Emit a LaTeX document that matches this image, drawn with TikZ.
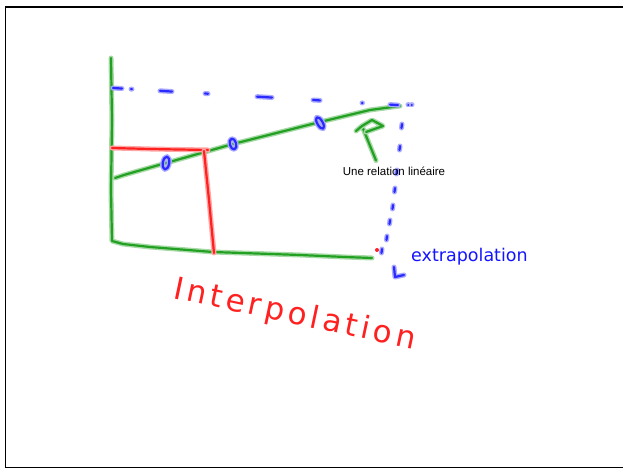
\documentclass[tikz,border=0pt]{standalone}
\usepackage{fontspec}
\setmainfont{Liberation Sans}
\newfontfamily\handfont{DejaVu Sans}
\usetikzlibrary{positioning}

\begin{document}
\begin{tikzpicture}[x=1bp, y=-1bp,
    pen/.style={line width=2.2bp, line cap=round, line join=round, draw=#1,
        preaction={draw=#1!40, line width=5bp, line cap=round, line join=round}},
    greenpen/.style={pen=penGreen},
    redpen/.style={pen=penRed},
    bluepen/.style={pen=penBlue},
    frameline/.style={draw=black, line width=1.8bp}]
    % Palette
    \definecolor{penGreen}{HTML}{22A022}
    \definecolor{penRed}{HTML}{FF2020}
    \definecolor{penBlue}{HTML}{2A2AFF}
    \definecolor{inkBlue}{HTML}{1414FF}

    \useasboundingbox (0,0) rectangle (623,470);

    % --- Page frame ---
    \draw[frameline] (623,7) -- (5.5,7) -- (5.5,467.5) -- (623,467.5);

    % --- Axes ---
    \draw[greenpen] (111,58) -- (112,120) -- (111,190) -- (112,241) -- (123,244) -- (150,247)
        -- (213,252) -- (300,255) -- (345,257) -- (372,258);

    % --- Linear relation ---
    \draw[greenpen] (115,178) -- (124,175) -- (166,163) -- (233,144) -- (320,122) -- (370,110) -- (400,106);

    % --- Interpolation lines ---
    \draw[redpen] (112,148) -- (150,149) -- (208,150);
    \draw[redpen] (204,151) -- (209,200) -- (214,253);
    \fill[penRed] (377,250) circle (2);

    % --- Data points ---
    \draw[bluepen, rotate around={-10:(166,163)}] (166,163) ellipse (3.2 and 6.5);
    \draw[bluepen, rotate around={15:(233,144)}] (233,144) ellipse (3.2 and 5.5);
    \draw[bluepen, rotate around={30:(320,123)}] (320,123) ellipse (2.7 and 6.5);

    % --- Extrapolation dashes ---
    \foreach \a/\b in {113/122, 131/132, 160/172, 205/208, 257/272, 313/320, 362/362.5, 390/398}
        \draw[bluepen] (\a,{88+0.06*(\a-113)}) -- (\b,{88+0.06*(\b-113)});
    \foreach \p/\q in {408/105, 411.5/105}
        \draw[bluepen, line width=1.5bp] (\p,\q) -- (\p+0.5,\q);
    \foreach \p/\q in {402/124, 400/146, 397/170, 395/188, 393/205, 390/220, 387/236, 382/249}
        \draw[bluepen] (\p,\q) -- (\p-0.5,\q+4);
    \draw[bluepen] (394,267) -- (395,277) -- (404,275);

    % --- Labels ---
    \node[inner sep=1bp, font=\fontsize{11.5bp}{13bp}\selectfont] (rel) at (394,171) {Une relation linéaire};
    \node[anchor=base west, inner sep=0, text=inkBlue, font=\handfont\fontsize{17.5bp}{20bp}\selectfont] (extra) at (411,262) {extrapolation};
    \node[anchor=base west, inner sep=0, text=penRed, rotate=-12,
        font=\handfont\fontsize{31bp}{34bp}\selectfont\addfontfeature{LetterSpace=13}] (interp) at (172,298) {Interpolation};

    % --- Pointer to the line ---
    \coordinate (tip) at (362,126);
    \draw[greenpen] ([xshift=-18bp, yshift=5bp]rel.north) -- (tip);
    \draw[greenpen] (356,131) -- (tip) -- (372,120) -- (383,126) -- (366,132);
\end{tikzpicture}
\end{document}
